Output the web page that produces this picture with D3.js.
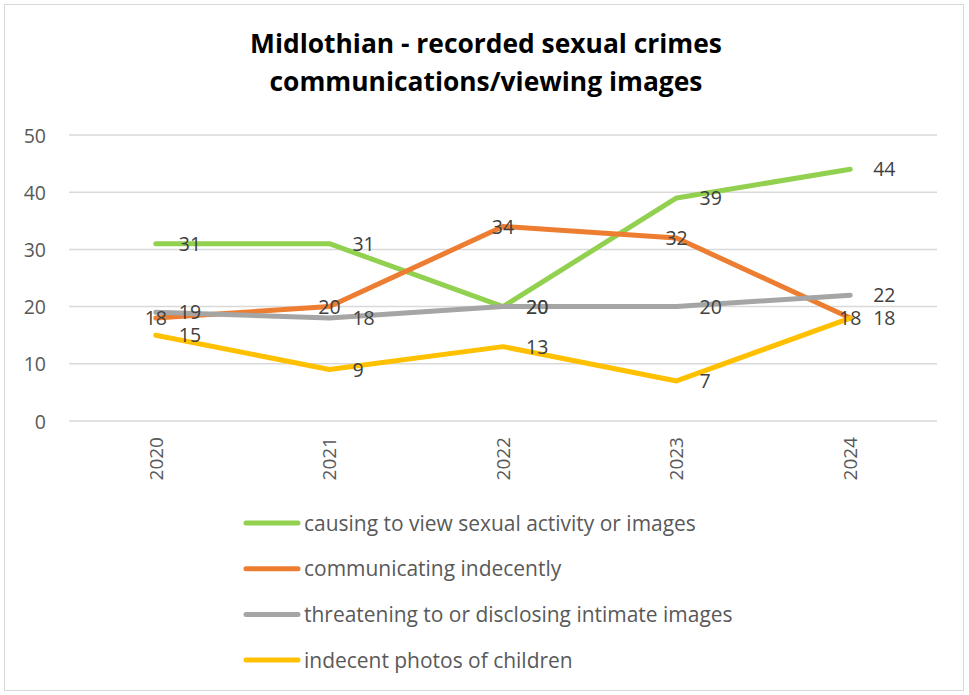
<!DOCTYPE html>
<html><head><meta charset="utf-8">
<script src="https://cdn.jsdelivr.net/npm/d3@7"></script>
<style>
body{margin:0;background:#fff;}
svg{display:block;}
</style></head>
<body>
<svg id="chart" width="969" height="695"></svg>
<script>
const years = ["2020","2021","2022","2023","2024"];
const causingToView = [31,31,20,39,44];
const communicating = [18,20,34,32,18];
const threatening = [19,18,20,20,22];
const indecentPhotos = [15,9,13,7,18];
const seriesNames = ["causing to view sexual activity or images","communicating indecently","threatening to or disclosing intimate images","indecent photos of children"];
const yTicks = [0,10,20,30,40,50];
const titleLines = ["Midlothian - recorded sexual crimes","communications/viewing images"];

const seriesValues = [causingToView, communicating, threatening, indecentPhotos];
const colors = ["#92D050","#ED7D31","#A5A5A5","#FFC000"];
const labelPos = ["right","center","right","right"];

const svg = d3.select("#chart");
svg.append("rect").attr("x",4.5).attr("y",4.5).attr("width",959).attr("height",686)
  .attr("fill","#fff").attr("stroke","#D9D9D9").attr("stroke-width",1);

const font = "'Open Sans', 'Noto Sans', sans-serif";

const title = svg.append("text").attr("text-anchor","middle").attr("font-family",font)
  .attr("font-weight","bold").attr("font-size",26).attr("fill","#000");
const tsp = titleLines.map((t,i)=>title.append("tspan").attr("x",486).attr("y",[53,91][i]).text(t));
// fit title width (line 1 ~472px)
{
  const w = tsp[0].node().getComputedTextLength();
  title.attr("font-size", 26*472/w);
}

const x = d3.scaleBand().domain(years).range([69,937]);
const y = d3.scaleLinear().domain([0,50]).range([421,135]);

// gridlines
svg.append("g").selectAll("line").data(yTicks).join("line")
  .attr("x1",69).attr("x2",937).attr("y1",d=>y(d)).attr("y2",d=>y(d))
  .attr("stroke","#D9D9D9").attr("stroke-width",1.5);

// y axis
const yAxis = svg.append("g").attr("transform","translate(46,0)")
  .call(d3.axisLeft(y).tickValues(yTicks).tickSize(0).tickPadding(0));
yAxis.select(".domain").remove();
yAxis.selectAll("text").attr("font-family",font).attr("font-size",19.5).attr("fill","#595959").attr("dy","0.36em");

// x axis
const xAxis = svg.append("g").attr("transform","translate(0,421)")
  .call(d3.axisBottom(x).tickSize(0));
xAxis.select(".domain").remove();
xAxis.selectAll("text").attr("font-family",font).attr("font-size",19).attr("fill","#595959")
  .attr("transform","rotate(-90)").attr("text-anchor","end").attr("x",-16).attr("y",0).attr("dy","0.36em");

const cx = d => x(d) + x.bandwidth()/2;
const line = d3.line().x((d,i)=>cx(years[i])).y(d=>y(d));

seriesValues.forEach((vals,si)=>{
  svg.append("path").datum(vals).attr("d",line).attr("fill","none")
    .attr("stroke",colors[si]).attr("stroke-width",5).attr("stroke-linecap","round").attr("stroke-linejoin","round");
});

seriesValues.forEach((vals,si)=>{
  svg.append("g").selectAll("text").data(vals).join("text")
    .attr("x",(d,i)=>cx(years[i]) + (labelPos[si]==="right"?23:0))
    .attr("y",d=>y(d)).attr("dy","0.36em")
    .attr("text-anchor",labelPos[si]==="right"?"start":"middle")
    .attr("font-family",font).attr("font-size",19.5).attr("fill","#404040")
    .text(d=>d);
});

// legend
const lg = svg.append("g");
const legTexts = [];
seriesNames.forEach((n,i)=>{
  const ly = 523 + i*45.7;
  lg.append("line").attr("x1",246).attr("x2",298).attr("y1",ly).attr("y2",ly)
    .attr("stroke",colors[i]).attr("stroke-width",5).attr("stroke-linecap","round");
  legTexts.push(lg.append("text").attr("x",304).attr("y",ly).attr("dy","0.36em")
    .attr("font-family",font).attr("font-size",19).attr("fill","#595959").text(n));
});
{
  const w = legTexts[0].node().getComputedTextLength();
  const fs = 19*392/w;
  legTexts.forEach(t=>t.attr("font-size",fs));
}
</script>
</body></html>
